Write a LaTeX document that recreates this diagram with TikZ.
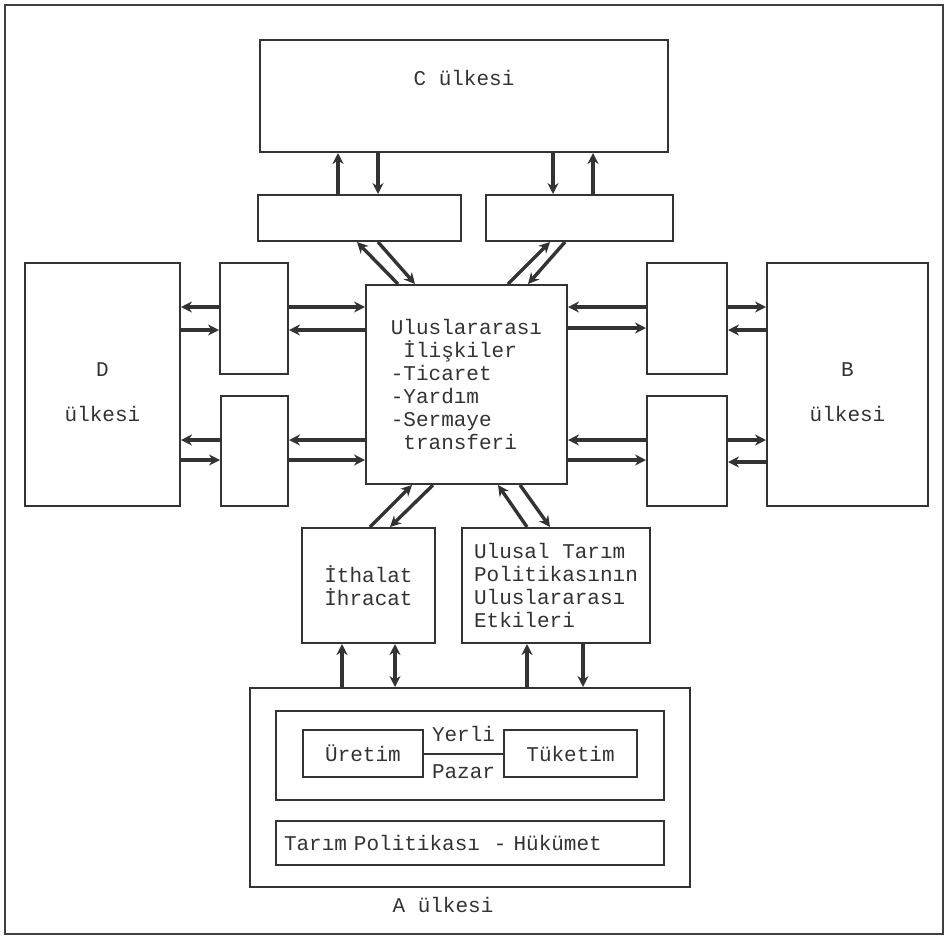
\documentclass[tikz,border=0pt]{standalone}
\usepackage{fontspec}
\setmainfont{Liberation Mono}
\usepackage{tikz}
\usetikzlibrary{arrows.meta}

\begin{document}
\begin{tikzpicture}[x=1pt,y=-1pt,
		every node/.style={font=\fontsize{21}{23}\selectfont,text=black!80},
		box/.style={draw=black!80,line width=2pt,rectangle,inner sep=0pt},
		arr/.style={draw=black!80,line width=3.4pt,-{Stealth[length=11pt,width=11pt]}},
		darr/.style={arr,{Stealth[length=11pt,width=11pt]}-{Stealth[length=11pt,width=11pt]}}]
		\useasboundingbox (0,0) rectangle (947,938);
		\draw[black!75,line width=2pt] (5,5) rectangle (943,934);
		% ulkeler
		\node[box,minimum width=408pt,minimum height=112pt] (C) at (464,96) {};
		\node (Ctext) at (464,78) {C ülkesi};
		\node[box,minimum width=155pt,minimum height=243pt] (D) at (102.5,384.5) {};
		\node[align=center] (Dtext) at (102.5,392) {D\\[22pt]ülkesi};
		\node[box,minimum width=161pt,minimum height=243pt] (B) at (847.5,384.5) {};
		\node[align=center] (Btext) at (847.5,392) {B\\[22pt]ülkesi};
		% ara kutular
		\node[box,minimum width=203pt,minimum height=46pt] (cl) at (359.5,218) {};
		\node[box,minimum width=187pt,minimum height=46pt] (cr) at (579.5,218) {};
		\node[box,minimum width=68pt,minimum height=111pt] (du) at (254,318.5) {};
		\node[box,minimum width=67pt,minimum height=110pt] (dl) at (254.5,451) {};
		\node[box,minimum width=80pt,minimum height=111pt] (bu) at (687,318.5) {};
		\node[box,minimum width=80pt,minimum height=110pt] (bl) at (687,451) {};
		\node[box,minimum width=201pt,minimum height=199pt,align=left] (M) at (466.5,384.5)
			{Uluslararası\\\phantom{-}İlişkiler\\-Ticaret\\-Yardım\\-Sermaye\\\phantom{-}transferi};
		\node[box,minimum width=133pt,minimum height=115pt,align=center] (ith) at (368.5,585.5) {İthalat\\İhracat};
		\node[box,minimum width=188pt,minimum height=115pt,align=left] (ulu) at (556,585.5)
			{Ulusal Tarım\\Politikasının\\Uluslararası\\Etkileri};
		% A ulkesi
		\node[box,minimum width=440pt,minimum height=199pt,label={[xshift=-27pt,yshift=-6pt]below:A ülkesi}] (A) at (470,787.5) {};
		\node[box,minimum width=388pt,minimum height=89pt] (pz) at (470,755.5) {};
		\node[box,minimum width=120pt,minimum height=47pt] (ur) at (363,753.5) {Üretim};
		\node[box,minimum width=133pt,minimum height=47pt] (tk) at (570.5,753.5) {Tüketim};
		\draw[black!80,line width=2pt] (ur) -- node[above=7pt]{Yerli} node[below=7pt]{Pazar} (tk);
		\node[box,minimum height=44pt,text width=372pt,inner xsep=8pt,align=left] (tp) at (470,843) {Tarım Politikası\ \ - Hükümet};
		% C ile
		\draw[arr] (338,0 |- cl.north) -- (338,0 |- C.south);
		\draw[arr] (378,0 |- C.south) -- (378,0 |- cl.north);
		\draw[arr] (553,0 |- C.south) -- (553,0 |- cr.north);
		\draw[arr] (593,0 |- cr.north) -- (593,0 |- C.south);
		\draw[arr] (398,0 |- M.north) -- (357,0 |- cl.south);
		\draw[arr] (378,0 |- cl.south) -- (415,0 |- M.north);
		\draw[arr] (508,0 |- M.north) -- (550,0 |- cr.south);
		\draw[arr] (565,0 |- cr.south) -- (528,0 |- M.north);
		% D ile
		\draw[arr] (du.west |- 0,307) -- (D.east |- 0,307);
		\draw[arr] (D.east |- 0,330) -- (du.west |- 0,330);
		\draw[arr] (du.east |- 0,307) -- (M.west |- 0,307);
		\draw[arr] (M.west |- 0,330) -- (du.east |- 0,330);
		\draw[arr] (dl.west |- 0,440) -- (D.east |- 0,440);
		\draw[arr] (D.east |- 0,460) -- (dl.west |- 0,460);
		\draw[arr] (M.west |- 0,440) -- (dl.east |- 0,440);
		\draw[arr] (dl.east |- 0,460) -- (M.west |- 0,460);
		% B ile
		\draw[arr] (bu.west |- 0,307) -- (M.east |- 0,307);
		\draw[arr] (M.east |- 0,328) -- (bu.west |- 0,328);
		\draw[arr] (bu.east |- 0,307) -- (B.west |- 0,307);
		\draw[arr] (B.west |- 0,330) -- (bu.east |- 0,330);
		\draw[arr] (bl.west |- 0,440) -- (M.east |- 0,440);
		\draw[arr] (M.east |- 0,460) -- (bl.west |- 0,460);
		\draw[arr] (bl.east |- 0,440) -- (B.west |- 0,440);
		\draw[arr] (B.west |- 0,462) -- (bl.east |- 0,462);
		% alt kisim
		\draw[arr] (370,0 |- ith.north) -- (412,0 |- M.south);
		\draw[arr] (433,0 |- M.south) -- (390,0 |- ith.north);
		\draw[arr] (527,0 |- ulu.north) -- (498,0 |- M.south);
		\draw[arr] (520,0 |- M.south) -- (550,0 |- ulu.north);
		\draw[arr] (342,0 |- A.north) -- (342,0 |- ith.south);
		\draw[darr] (395,0 |- ith.south) -- (395,0 |- A.north);
		\draw[arr] (527,0 |- A.north) -- (527,0 |- ulu.south);
		\draw[arr] (583,0 |- ulu.south) -- (583,0 |- A.north);
	\end{tikzpicture}
\end{document}
